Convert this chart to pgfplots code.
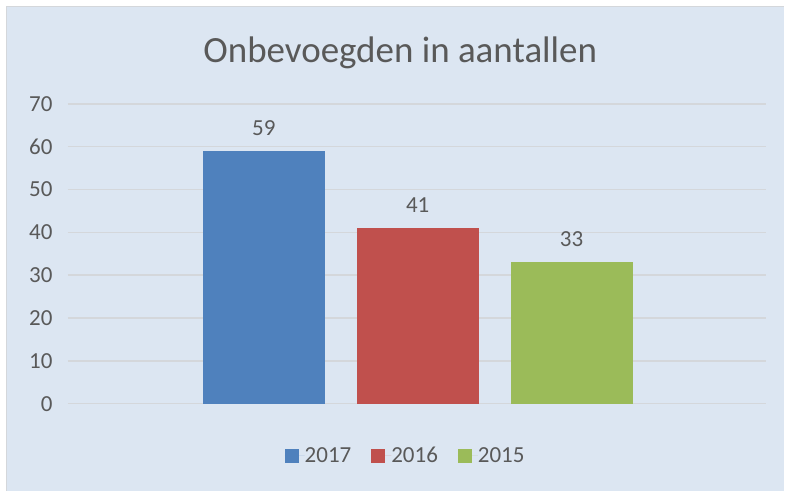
\documentclass[border=0pt]{standalone}
\usepackage{pgfplots}
\pgfplotsset{compat=1.18}
\usepackage{fontspec}
\setmainfont{Carlito}
\definecolor{bgc}{HTML}{DCE6F2}
\definecolor{gridc}{HTML}{D4D7DB}
\definecolor{txt}{HTML}{595959}
\definecolor{cA}{HTML}{4F81BD}
\definecolor{cB}{HTML}{C0504D}
\definecolor{cC}{HTML}{9BBB59}
\begin{document}
\begin{tikzpicture}[x=1pt,y=1pt]
\fill[white] (0,0) rectangle (785,491);
\fill[bgc] (7,0) rectangle (785,484);
\draw[gridc,line width=1.2pt] (6.5,0) -- (6.5,484.5) -- (785,484.5);
\node[anchor=base,font=\fontsize{37}{44}\selectfont,text=txt] at (400.5,428) {Onbevoegden in aantallen};
\begin{axis}[
  at={(68pt,87pt)}, anchor=south west, scale only axis,
  width=699pt, height=300pt,
  xmin=-2.273, xmax=2.266, ymin=0, ymax=70,
  ytick={0,10,...,70}, xtick=\empty,
  ymajorgrids, grid style={gridc,line width=1.5pt},
  axis line style={draw=none}, tick style={draw=none},
  yticklabel style={font=\fontsize{23}{27}\selectfont,text=txt,xshift=-12pt},
  /pgf/number format/assume math mode=true,
  ybar, bar width=122pt, bar shift=0pt,
  nodes near coords,
  every node near coord/.append style={font=\fontsize{23}{27}\selectfont,text=txt,yshift=12pt},
  legend columns=3,
  legend style={draw=none,fill=none,at={(0.482,-0.1733)},anchor=center,
    font=\fontsize{23}{27}\selectfont,text=txt,
    nodes={inner sep=0pt},
    /tikz/every even column/.append style={column sep=20pt}},
  legend image code/.code={\path (0pt,0pt) -- (20pt,0pt);\fill[#1,draw=none] (0pt,-7pt) rectangle (14pt,7pt);},
]
\addplot[fill=cA,draw=none] coordinates {(-1,59)};
\addlegendentry{2017}
\addplot[fill=cB,draw=none] coordinates {(0,41)};
\addlegendentry{2016}
\addplot[fill=cC,draw=none] coordinates {(1,33)};
\addlegendentry{2015}
\end{axis}
\end{tikzpicture}
\end{document}
